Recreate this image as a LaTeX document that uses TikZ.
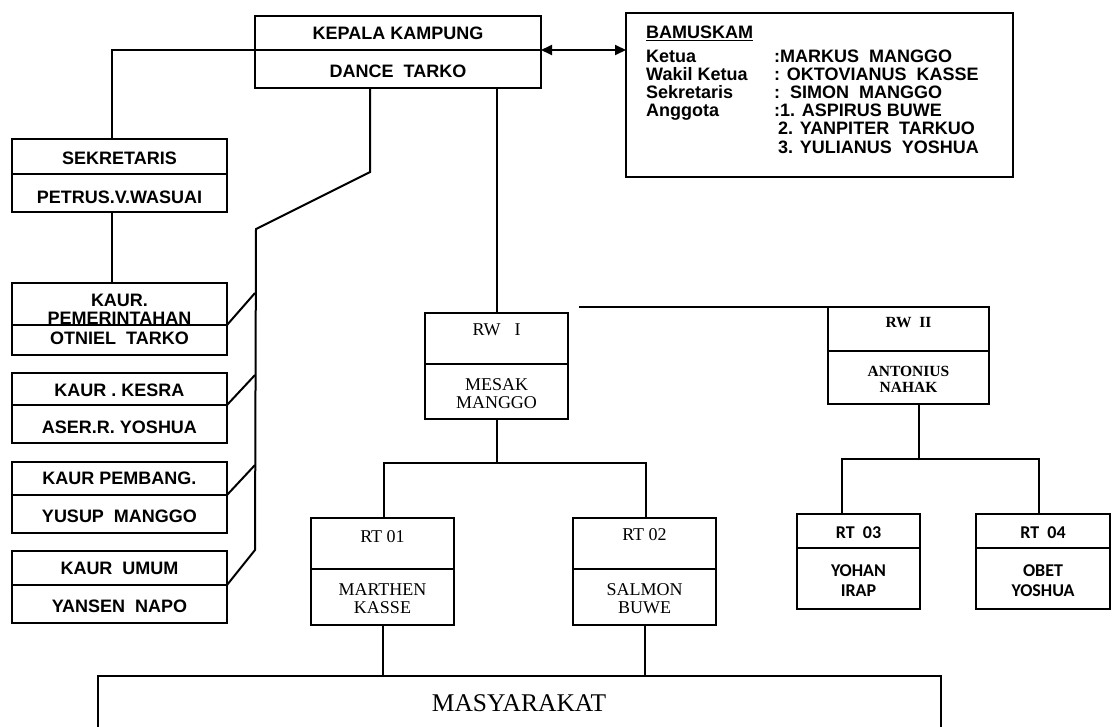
\documentclass[tikz,border=0pt]{standalone}
\usepackage{fontspec}
\setmainfont{Liberation Serif}
\setsansfont{Liberation Sans}
\newfontfamily\carlitofont{Carlito}
\usetikzlibrary{arrows.meta}
\tikzset{
  bx/.style={draw, line width=2pt, inner sep=0pt, outer sep=0pt, anchor=north west},
  ln/.style={line width=2pt},
  sf/.style={font=\sffamily\bfseries\fontsize{18}{18}\selectfont, inner sep=0pt, align=center},
  bm/.style={font=\sffamily\bfseries\fontsize{18}{18}\selectfont, inner sep=0pt, anchor=base west},
  rm/.style={font=\rmfamily\fontsize{18}{18}\selectfont, inner sep=0pt, align=center},
  rmb/.style={font=\rmfamily\bfseries\fontsize{15.5}{16}\selectfont, inner sep=0pt, align=center},
  cb/.style={font=\carlitofont\bfseries\fontsize{18}{20}\selectfont, inner sep=0pt, align=center},
  tip/.style={{Triangle[length=11pt,width=10pt]}-{Triangle[length=11pt,width=10pt]}}
}
\begin{document}
\begin{tikzpicture}[x=1pt,y=-1pt]
\useasboundingbox (0,0) rectangle (1113,726);
\clip (0,0) rectangle (1113,726);
% boxes
\node[bx, minimum width=286pt, minimum height=72pt] (kepala) at (255,16) {};
\node[bx, minimum width=387pt, minimum height=164pt] (bamus) at (626,13) {};
\node[bx, minimum width=215pt, minimum height=73pt] (sekr) at (12,139) {};
\node[bx, minimum width=215pt, minimum height=72pt] (kaur1) at (12,283) {};
\node[bx, minimum width=215pt, minimum height=70pt] (kaur2) at (12,373) {};
\node[bx, minimum width=215pt, minimum height=71pt] (kaur3) at (12,462) {};
\node[bx, minimum width=215pt, minimum height=72pt] (kaur4) at (12,551) {};
\node[bx, minimum width=143pt, minimum height=106pt] (rw1) at (425,313) {};
\node[bx, minimum width=161pt, minimum height=97pt] (rw2) at (828,307) {};
\node[bx, minimum width=143pt, minimum height=107pt] (rt1) at (311,518) {};
\node[bx, minimum width=143pt, minimum height=107pt] (rt2) at (573,518) {};
\node[bx, minimum width=123pt, minimum height=95pt] (rt3) at (797,514) {};
\node[bx, minimum width=134pt, minimum height=95pt] (rt4) at (976,514) {};
\node[bx, minimum width=843pt, minimum height=90pt] (masy) at (98,676) {};
% dividers
\draw[ln] (kepala.west |- 0,50) -- (kepala.east |- 0,50);
\draw[ln] (sekr.west |- 0,174) -- (sekr.east |- 0,174);
\draw[ln] (kaur1.west |- 0,325) -- (kaur1.east |- 0,325);
\draw[ln] (kaur2.west |- 0,405) -- (kaur2.east |- 0,405);
\draw[ln] (kaur3.west |- 0,495) -- (kaur3.east |- 0,495);
\draw[ln] (kaur4.west |- 0,585) -- (kaur4.east |- 0,585);
\draw[ln] (rw1.west |- 0,364) -- (rw1.east |- 0,364);
\draw[ln] (rw2.west |- 0,351) -- (rw2.east |- 0,351);
\draw[ln] (rt1.west |- 0,569) -- (rt1.east |- 0,569);
\draw[ln] (rt2.west |- 0,569) -- (rt2.east |- 0,569);
\draw[ln] (rt3.west |- 0,548) -- (rt3.east |- 0,548);
\draw[ln] (rt4.west |- 0,548) -- (rt4.east |- 0,548);
% coordinates
\coordinate (kdL) at (255,50);
\coordinate (kdR) at (541,50);
\coordinate (sx) at (112,0);
\coordinate (s1) at (370,172);
\coordinate (s2) at (256,229);
\coordinate (v1) at (255,293);
\coordinate (v2) at (255,375);
\coordinate (v3) at (255,465);
\coordinate (s3) at (255,550);
\coordinate (k1d) at (227,325);
\coordinate (k2d) at (227,405);
\coordinate (k3d) at (227,495);
\coordinate (k4d) at (227,585);
\coordinate (h1) at (384,463);
\coordinate (h2) at (646,463);
\coordinate (tl) at (579,307);
\coordinate (r2b) at (919,404);
\coordinate (j3) at (842,459);
\coordinate (j4) at (1039,459);
% connectors
\draw[ln] (kdL) -- (kdL -| sx) -- (sx |- sekr.north);
\draw[ln] (sx |- sekr.south) -- (sx |- kaur1.north);
\draw[ln, tip] (kdR) -- (bamus.west |- kdR);
\draw[ln] (s1 |- kepala.south) -- (s1) -- (s2) -- (s3) -- (k4d);
\draw[ln] (k1d) -- (v1);
\draw[ln] (k2d) -- (v2);
\draw[ln] (k3d) -- (v3);
\draw[ln] (kepala.south -| rw1.north) -- (rw1.north);
\draw[ln] (tl) -- (rw2.north west);
\draw[ln] (rw1.south) -- (rw1.south |- h1);
\draw[ln] (h1 |- rt1.north) -- (h1) -- (h2) -- (h2 |- rt2.north);
\draw[ln] (r2b) -- (r2b |- j3);
\draw[ln] (j3 |- rt3.north) -- (j3) -- (j4) -- (j4 |- rt4.north);
\draw[ln] (rt1.south) -- (rt1.south |- masy.north);
\draw[ln] (rt2.south) -- (rt2.south |- masy.north);
% texts
\node[sf] (t1) at (398,33) {KEPALA KAMPUNG};
\node[sf] (t2) at (398,71) {DANCE\ \ TARKO};
\node[sf] (t3) at (119.5,158) {SEKRETARIS};
\node[sf] (t4) at (119.5,197) {PETRUS.V.WASUAI};
\node[sf] (t5) at (119.5,300) {KAUR.};
\node[sf] (t6) at (119.5,318) {PEMERINTAHAN};
\node[sf] (t7) at (119.5,338) {OTNIEL\ \ TARKO};
\node[sf] (t8) at (119.5,390) {KAUR . KESRA};
\node[sf] (t9) at (119.5,427) {ASER.R. YOSHUA};
\node[sf] (t10) at (119.5,478) {KAUR PEMBANG.};
\node[sf] (t11) at (119.5,516) {YUSUP\ \ MANGGO};
\node[sf] (t12) at (119.5,568) {KAUR\ \ UMUM};
\node[sf] (t13) at (119.5,606) {YANSEN\ \ NAPO};
% bamuskam
\node[bm] (b0) at (646,38.5) {\underline{BAMUSKAM}};
\node[bm] (b1) at (646,62) {Ketua};
\node[bm] (b2) at (646,80) {Wakil Ketua};
\node[bm] (b3) at (646,98) {Sekretaris};
\node[bm] (b4) at (646,116) {Anggota};
\node[bm] (c1) at (774,62) {:MARKUS\ \ MANGGO};
\node[bm] (c2) at (774,80) {: OKTOVIANUS\ \ KASSE};
\node[bm] (c3) at (774,98) {:\ \ SIMON\ \ MANGGO};
\node[bm] (c4) at (774,116) {:1. ASPIRUS BUWE};
\node[bm] (c5) at (778,134) {2. YANPITER\ \ TARKUO};
\node[bm] (c6) at (778,153) {3. YULIANUS\ \ YOSHUA};
% RW / RT
\node[rm] (r1) at (496.5,330) {RW\hspace{14pt}I};
\node[rm] (r2) at (496.5,394) {MESAK\\MANGGO};
\node[rmb] (r3) at (908.5,323) {RW\ \ II};
\node[rmb] (r4) at (908.5,379) {ANTONIUS\\NAHAK};
\node[rm] (r5) at (382.5,537) {RT 01};
\node[rm] (r6) at (382.5,599) {MARTHEN\\KASSE};
\node[rm] (r7) at (644.5,535) {RT 02};
\node[rm] (r8) at (644.5,599) {SALMON\\BUWE};
\node[cb] (r9) at (858.5,533) {RT\ \ 03};
\node[cb] (r10) at (858.5,581) {YOHAN\\IRAP};
\node[cb] (r11) at (1043,533) {RT\ \ 04};
\node[cb] (r12) at (1043,581) {OBET\\YOSHUA};
\node[font=\rmfamily\fontsize{25.5}{26}\selectfont, inner sep=0pt] (m1) at (519,703) {MASYARAKAT};
\end{tikzpicture}
\end{document}
